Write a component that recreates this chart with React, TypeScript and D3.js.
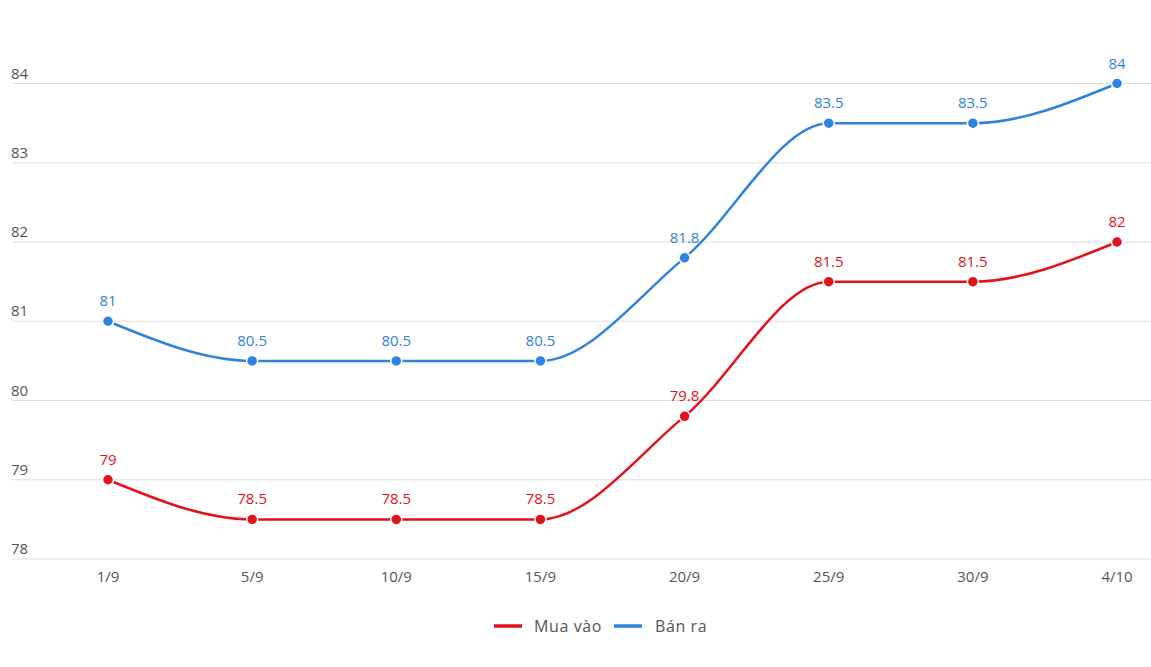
import React from "react";
import * as d3 from "d3";

const categories = ["1/9", "5/9", "10/9", "15/9", "20/9", "25/9", "30/9", "4/10"];
const muaVao = [79, 78.5, 78.5, 78.5, 79.8, 81.5, 81.5, 82];
const banRa = [81, 80.5, 80.5, 80.5, 81.8, 83.5, 83.5, 84];
const yTicks = [78, 79, 80, 81, 82, 83, 84];

const W = 1151;
const H = 667;
const RED = "#e2111b";
const BLUE = "#2f82de";

export default function App() {
  const x = d3.scalePoint<string>().domain(categories).range([108, 1117]);
  const y = d3.scaleLinear().domain([78, 84]).range([559, 83.5]);
  const line = d3
    .line<number>()
    .x((_, i) => x(categories[i])!)
    .y((d) => y(d))
    .curve(d3.curveMonotoneX);
  const series = [
    { name: "Mua vào", data: muaVao, color: RED },
    { name: "Bán ra", data: banRa, color: BLUE },
  ];
  const fmt = (v: number) => String(v);
  return (
    <svg
      width={W}
      height={H}
      style={{ position: "absolute", left: 0, top: 0, background: "#fff" }}
      fontFamily="'Open Sans', sans-serif"
    >
      {yTicks.map((t) => (
        <g key={t}>
          <line x1={12} x2={W} y1={y(t)} y2={y(t)} stroke="#dedede" strokeWidth={1} />
          <text x={11} y={y(t) - 5} fontSize={15} fill="#555">
            {t}
          </text>
        </g>
      ))}
      {categories.map((c) => (
        <text key={c} x={x(c)} y={582} fontSize={15} fill="#555" textAnchor="middle">
          {c}
        </text>
      ))}
      {series.map((s) => (
        <g key={s.name}>
          <path d={line(s.data) || ""} fill="none" stroke={s.color} strokeWidth={2.5} />
          {s.data.map((v, i) => (
            <g key={i}>
              <circle cx={x(categories[i])} cy={y(v)} r={5.5} fill={s.color} stroke="#fff" strokeWidth={1.5} />
              <text x={x(categories[i])} y={y(v) - 15} fontSize={15} fill={s.color} textAnchor="middle">
                {fmt(v)}
              </text>
            </g>
          ))}
        </g>
      ))}
      <g fontFamily="'Open Sans', sans-serif" fontSize={16} fill="#555" letterSpacing={0.6}>
        <line x1={494} x2={522} y1={626} y2={626} stroke={RED} strokeWidth={3.5} />
        <text x={534} y={632}>Mua vào</text>
        <line x1={614} x2={642} y1={626} y2={626} stroke={BLUE} strokeWidth={3.5} />
        <text x={655} y={632}>Bán ra</text>
      </g>
    </svg>
  );
}
